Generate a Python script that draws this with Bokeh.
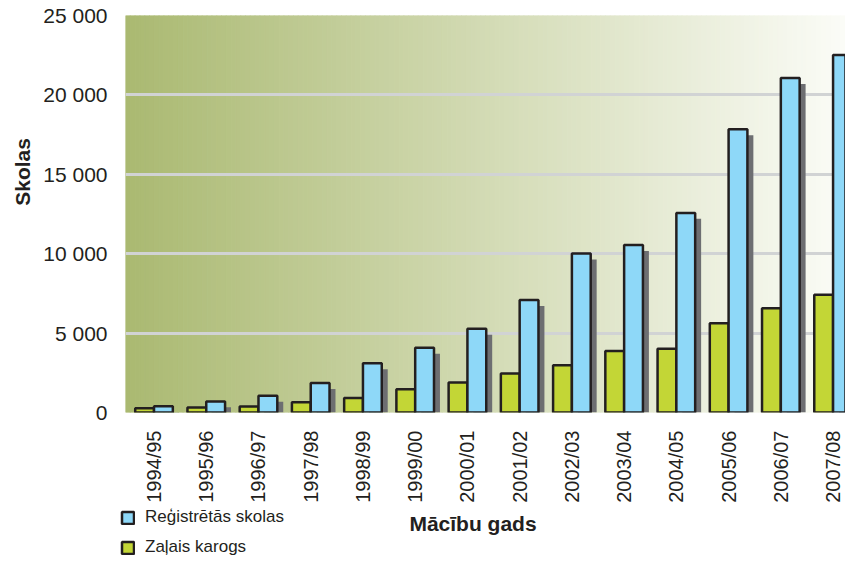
import numpy as np
from bokeh.plotting import figure
from bokeh.layouts import row, column
from bokeh.models import Range1d, FixedTicker, Legend, LegendItem, Label
from bokeh.embed import file_html
from bokeh.resources import INLINE

# ---- data ----
years = ["1994/95", "1995/96", "1996/97", "1997/98", "1998/99", "1999/00", "2000/01",
         "2001/02", "2002/03", "2003/04", "2004/05", "2005/06", "2006/07", "2007/08"]
registered = [400, 700, 1050, 1850, 3100, 4070, 5280, 7080, 10010, 10550, 12570, 17830, 21060, 22510]
green_flag = [260, 310, 370, 640, 910, 1470, 1890, 2450, 2970, 3870, 4010, 5620, 6570, 7410]
y_ticks = [0, 5000, 10000, 15000, 20000, 25000]
y_tick_labels = ["0", "5 000", "10 000", "15 000", "20 000", "25 000"]
grid_ticks = [5000, 10000, 15000, 20000]
series_names = ["Reģistrētās skolas", "Zaļais karogs"]
x_title = "Mācību gads"
y_title = "Skolas"

FONT = "Liberation Sans"
TXT = "#231f20"
BLUE = "#8ed8f8"
GREEN = "#c3d636"
EDGE = "#231f20"

idx = np.arange(len(years))
bw = 0.36
x0, x1 = -0.546, 13.238

MAIN_H = 505
W_LEFT = 40

# ---- main chart ----
p = figure(width=845 - W_LEFT, height=MAIN_H, output_backend="svg", toolbar_location=None,
           x_range=Range1d(x0, x1), y_range=Range1d(0, 25000),
           min_border_left=120 - W_LEFT, min_border_right=0, min_border_top=15,
           min_border_bottom=MAIN_H - 413)
p.outline_line_color = None
p.background_fill_color = "white"
p.border_fill_color = "white"

# gradient background
N = 150
edges = np.linspace(x0, x1, N + 1)
c0 = np.array([170, 185, 113])
c1 = np.array([251, 252, 247])
cols = []
for a, b in zip(edges[:-1], edges[1:]):
    f = ((a + b) / 2 - x0) / (x1 - x0)
    c = (c0 + (c1 - c0) * f).round().astype(int)
    cols.append("#%02x%02x%02x" % tuple(c))
p.quad(left=edges[:-1], right=edges[1:], bottom=0, top=25000, fill_color=cols,
       line_color=cols, line_width=1, level="image")

# shadow behind blue bars
sh_dx = 6 / 52.6
sh_dy = 6 / 15.92 * 1000
p.vbar(x=idx + bw / 2 + sh_dx, top=np.array(registered) - sh_dy, width=bw, bottom=0,
       fill_color="#6d6e71", line_color=None)

p.vbar(x=idx - bw / 2, top=green_flag, width=bw, bottom=0,
       fill_color=GREEN, line_color=EDGE, line_width=2.5)
p.vbar(x=idx + bw / 2, top=registered, width=bw, bottom=0,
       fill_color=BLUE, line_color=EDGE, line_width=2.5)

# grid
p.xgrid.visible = False
p.ygrid.ticker = FixedTicker(ticks=grid_ticks)
p.ygrid.grid_line_color = "#d1d3d4"
p.ygrid.grid_line_width = 3

# axes
for ax in (p.xaxis[0], p.yaxis[0]):
    ax.axis_line_color = None
    ax.major_tick_line_color = None
    ax.minor_tick_line_color = None
    ax.major_label_text_font = FONT
    ax.major_label_text_color = TXT
    ax.major_label_standoff = 12
p.xaxis.major_label_text_font_size = "20px"
p.yaxis.major_label_text_font_size = "21px"

p.xaxis.ticker = FixedTicker(ticks=[int(i) for i in idx])
p.xaxis.major_label_overrides = {int(i): years[i] for i in idx}
p.xaxis.major_label_orientation = np.pi / 2
p.yaxis.ticker = FixedTicker(ticks=y_ticks)
p.yaxis.major_label_overrides = {t: l for t, l in zip(y_ticks, y_tick_labels)}

# ---- left strip with the y title ----
pl = figure(width=W_LEFT, height=MAIN_H, output_backend="svg", toolbar_location=None,
            x_range=Range1d(0, W_LEFT), y_range=Range1d(0, MAIN_H),
            x_axis_type=None, y_axis_type=None, min_border=0)
pl.outline_line_color = None
pl.grid.visible = False
pl.add_layout(Label(x=21.5, y=MAIN_H - 199, text=y_title, angle=np.pi / 2,
                    text_align="center", text_baseline="middle", text_font=FONT,
                    text_font_size="21px", text_font_style="bold", text_color=TXT))

# ---- bottom strip with legend and x title ----
BH = 562 - MAIN_H
pb = figure(width=845, height=BH, output_backend="svg", toolbar_location=None,
            x_range=Range1d(0, 845), y_range=Range1d(0, BH),
            x_axis_type=None, y_axis_type=None, min_border=0)
pb.outline_line_color = None
pb.grid.visible = False
# legend proxies (hidden; only their style is used by the legend)
lb = pb.vbar(x=[-10000], bottom=[-10000], top=[-9999], width=1,
             fill_color=BLUE, line_color=EDGE, line_width=2.5, visible=False)
lg = pb.vbar(x=[-10000], bottom=[-10000], top=[-9999], width=1,
             fill_color=GREEN, line_color=EDGE, line_width=2.5, visible=False)
pb.add_layout(Label(x=472.5, y=562 - 523, text=x_title,
                    text_align="center", text_baseline="middle", text_font=FONT,
                    text_font_size="21px", text_font_style="bold", text_color=TXT))
legend = Legend(items=[LegendItem(label=series_names[0], renderers=[lb]),
                       LegendItem(label=series_names[1], renderers=[lg])],
                location=(120, 562 - 557), orientation="vertical",
                glyph_width=15, glyph_height=15, label_height=15, spacing=10,
                padding=0, margin=0, border_line_color=None, background_fill_alpha=0,
                inactive_fill_alpha=0,
                label_standoff=10, label_text_font=FONT, label_text_font_size="17px",
                label_text_color=TXT)
pb.add_layout(legend)

layout = column(row(pl, p), pb)
open("out.html", "w").write(file_html(layout, INLINE))
